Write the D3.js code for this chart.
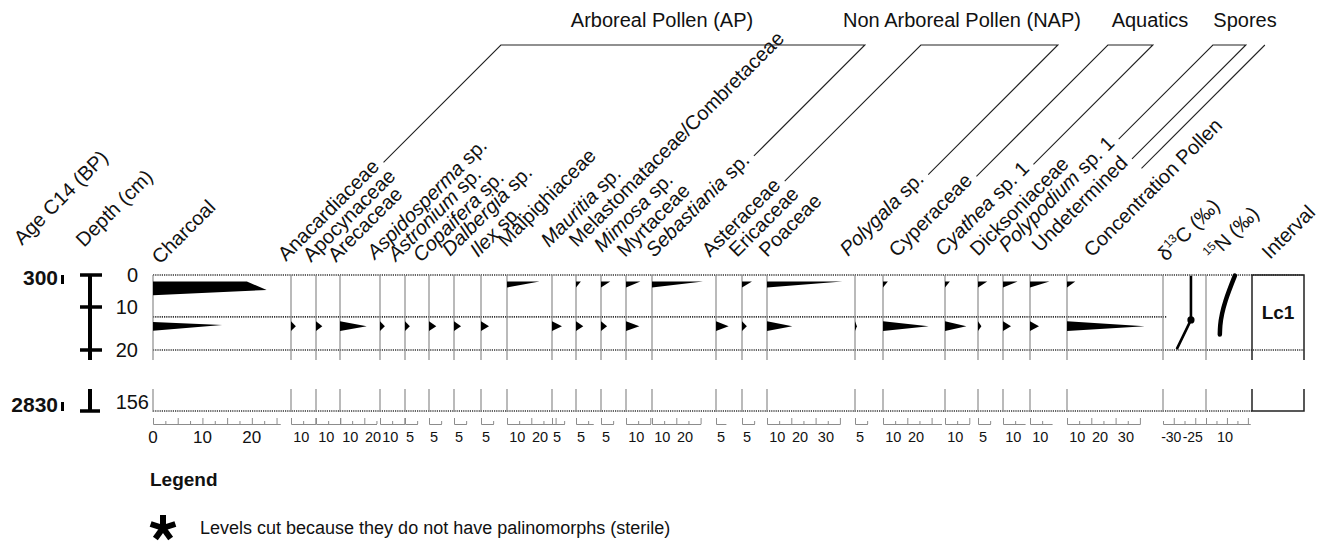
<!DOCTYPE html>
<html>
<head>
<meta charset="utf-8">
<script src="https://cdn.jsdelivr.net/npm/d3@7"></script>
<style>
body{margin:0;background:#fff;}
svg text{font-family:Arial,"Liberation Sans",Helvetica,sans-serif;fill:#111;}
</style>
</head>
<body>
<svg id="chart" width="1332" height="543"></svg>
<script>
// ---- values ----
var taxa = ["Anacardiaceae","Apocynaceae","Arecaceae","Aspidosperma sp.","Astronium sp.","Copaifera sp.",
  "Dalbergia sp.","Ilex sp.","Malpighiaceae","Mauritia sp.","Melastomataceae/Combretaceae","Mimosa sp.",
  "Myrtaceae","Sebastiania sp.","Asteraceae","Ericaceae","Poaceae","Polygala sp.","Cyperaceae",
  "Cyathea sp. 1","Dicksoniaceae","Polypodium sp. 1","Undetermined","Concentration Pollen"];
var sampleDepths = [2, 14.5];
var pctUpper = [0,0,0,0,0,0,0,0,13.4,0,2,3.8,5.9,21,0,4.1,31,0,2,2,3.8,6,8,3.4];
var pctLower = [2,2.6,11,2,2,3,2.9,3.3,0,4.1,3,2.5,5.5,0,5.2,2,10.4,0.8,18.8,8.8,1.4,3.3,3.7,32];
var axisMax = [10,10,15,10,5,5,5,5,23,5,7,5,10,20,4,5,30,5,24,10,5,9,9,30];
var tickLabels = [[10],[10],[10,20],[10],[5],[5],[5],[5],[10,20],[5],[5],[5],[10],[10,20],[5],[5],
  [10,20,30],[5],[10,20],[10],[5],[10],[10],[10,20,30]];

var charcoal = [{depth:2,value:19},{depth:4.7,value:23},{depth:14.2,value:14}];
var charcoalTicks = [0,10,20];
var d13C = [{depth:0.2,value:-26},{depth:13,value:-26},{depth:19.8,value:-29.3}];
var d13CTicks = [-30,-25];
var d15N = [{depth:0.2,value:11.9},{depth:14.3,value:8.4},{depth:16.4,value:8.3}];
var d15NTicks = [10];

var depthTicks = [0,10,20];
var lowerDepth = 156;
var ages = [{depth:0,age:"300"},{depth:156,age:"2830"}];
var boundaries = [0,12.3,20];
var zones = [{name:"Lc1",top:0,base:20}];

var groups = [
  {name:"Arboreal Pollen (AP)", first:"Anacardiaceae", last:"Sebastiania sp.", titleX:662},
  {name:"Non Arboreal Pollen (NAP)", first:"Asteraceae", last:"Polygala sp.", titleX:962},
  {name:"Aquatics", first:"Cyperaceae", last:"Cyathea sp. 1", titleX:1150},
  {name:"Spores", first:"Polypodium sp. 1", last:"Undetermined", titleX:1245}
];

// ---- layout ----
var colWidth = [138,25,24,40,25,24,25,27,26,45,24,25,25,26,64,26,25,88,28,62,33,25,27,37,96,43,46,52];
var colX = [], acc = 153;
colWidth.forEach(function(w){ colX.push(acc); acc += w; });
// [shift along x+y, baseline y] for the slanted header labels
var labelNudge = {"Charcoal":[15,265],"Apocynaceae":[1,263],"Arecaceae":[2,263],"Aspidosperma sp.":[-2,260],
  "Astronium sp.":[-4,262],"Copaifera sp.":[-2,263],"Dalbergia sp.":[-4,257],"Ilex sp.":[-2,258],
  "Malpighiaceae":[-10,248],"Mauritia sp.":[-12,248],"Melastomataceae/Combretaceae":[-8,248],
  "Mimosa sp.":[-3,253],"Myrtaceae":[0,258],"Sebastiania sp.":[3,258],"Asteraceae":[-5,258],
  "Ericaceae":[-4,258],"Poaceae":[1,258],"Polygala sp.":[-7,257],"Cyperaceae":[15,258],
  "Cyathea sp. 1":[-2,257],"Dicksoniaceae":[0,257],"Polypodium sp. 1":[0,253],"Undetermined":[6,253],
  "Concentration Pollen":[26,258],"δ13C":[8,262],"15N":[12,262],"Interval":[21,260]};

var svg = d3.select("#chart");
var yUp = d3.scaleLinear().domain([0,10,20]).range([275,307,350]);
var yLow = d3.scaleLinear().domain([150,156]).range([389,411]);
var upTop = 275, upBot = 360, lowTop = 389, lowBot = 412;
var axisY = 424;
var pxPerPct = 2.43;
var xRight = colX[27] + colWidth[27];

// dotted level lines
var dots = svg.append("g").attr("stroke","#333").attr("stroke-width",1.6).attr("stroke-dasharray","1.2 1");
boundaries.forEach(function(d,i){
  var x2 = (i===1) ? colX[25]+4 : xRight;
  dots.append("line").attr("x1",colX[0]).attr("x2",x2).attr("y1",yUp(d)).attr("y2",yUp(d));
});
dots.append("line").attr("x1",colX[0]).attr("x2",colX[27]).attr("y1",yLow(lowerDepth)).attr("y2",yLow(lowerDepth));

// column baselines
var base = svg.append("g").attr("stroke","#8c8c8c").attr("stroke-width",1.2);
colX.slice(0,27).forEach(function(x){
  base.append("line").attr("x1",x).attr("x2",x).attr("y1",upTop).attr("y2",upBot);
  base.append("line").attr("x1",x).attr("x2",x).attr("y1",lowTop).attr("y2",lowBot);
});

function drawAxis(scale, step, majorStep, maxV, minV){
  var all = d3.range(minV, maxV + 0.001, step);
  var major = all.filter(function(v){ return Math.abs(v/majorStep - Math.round(v/majorStep)) < 1e-6; });
  var minor = all.filter(function(v){ return major.indexOf(v) < 0; });
  var g = svg.append("g").attr("transform","translate(0,"+axisY+")");
  g.call(d3.axisBottom(scale).tickValues(major).tickSize(-6).tickSizeOuter(0).tickFormat(""));
  g.append("g").call(d3.axisBottom(scale).tickValues(minor).tickSize(-3).tickSizeOuter(0).tickFormat(""));
  g.selectAll("path,line").attr("stroke","#8c8c8c").attr("stroke-width",1);
  return g;
}
function area(xs, ys, pts){
  return d3.line().x(function(p){return xs(p[0]);}).y(function(p){return ys(p[1]);})(pts) + "Z";
}

// charcoal
var xc = d3.scaleLinear().domain([0,25.7]).range([colX[0], colX[0]+127]);
var cg = drawAxis(xc, 2.5, 5, 25, 0);
cg.selectAll(".lab").data(charcoalTicks).enter().append("text")
  .attr("x",function(d){return xc(d);}).attr("y",19).attr("text-anchor","middle")
  .attr("font-size",17).text(function(d){return d;});
svg.append("path").attr("fill","#000")
  .attr("d", area(xc, yUp, [[0,charcoal[0].depth],[charcoal[0].value,charcoal[0].depth],
    [charcoal[1].value,charcoal[1].depth],[0,charcoal[1].depth+1.6]]));
svg.append("path").attr("fill","#000")
  .attr("d", area(xc, yUp, [[0,charcoal[2].depth-0.7],[charcoal[2].value,charcoal[2].depth],[0,charcoal[2].depth+1.3]]));

// pollen taxa
function labelShiftX(d){ return d < 10 ? -7 : (d >= 20 && d < 30 ? -15.5 : -14); }
taxa.forEach(function(name,i){
  var x0 = colX[i+1];
  var xs = d3.scaleLinear().domain([0,axisMax[i]]).range([x0, x0+axisMax[i]*pxPerPct]);
  var g = drawAxis(xs, 5, 10, axisMax[i], 0);
  g.selectAll(".lab").data(tickLabels[i]).enter().append("text")
    .attr("x",function(d){return x0 + d*pxPerPct + labelShiftX(d);}).attr("y",18).attr("text-anchor","middle")
    .attr("font-size",14.5).text(function(d){return d;});
  var d1 = sampleDepths[0], d2 = sampleDepths[1];
  if(pctUpper[i] > 0){
    svg.append("path").attr("fill","#000").attr("d", area(xs, yUp, [[0,d1],[pctUpper[i],d1],[0,d1+1.9]]));
  }
  if(pctLower[i] > 0){
    svg.append("path").attr("fill","#000").attr("d", area(xs, yUp, [[0,d2-1.2],[pctLower[i],d2],[0,d2+1.1]]));
  }
});

// isotopes
var x13 = d3.scaleLinear().domain([-32.5,-22.5]).range([colX[25], colX[25]+43]);
var g13 = drawAxis(x13, 2.5, 5, -22.5, -32.5);
g13.selectAll(".lab").data(d13CTicks).enter().append("text")
  .attr("x",function(d){return x13(d)-2.5;}).attr("y",18).attr("text-anchor","middle")
  .attr("font-size",14).text(function(d){return d;});
svg.append("path").attr("fill","none").attr("stroke","#000").attr("stroke-width",2.6)
  .attr("d", d3.line().x(function(d){return x13(d.value);}).y(function(d){return yUp(d.depth);})(d13C));
svg.append("circle").attr("cx",x13(d13C[1].value)).attr("cy",yUp(d13C[1].depth)).attr("r",3.6).attr("fill","#000");

var x15 = d3.scaleLinear().domain([5,15.5]).range([colX[26], colX[26]+44]);
var g15 = drawAxis(x15, 2.5, 5, 15, 5);
g15.selectAll(".lab").data(d15NTicks).enter().append("text")
  .attr("x",function(d){return x15(d)-2;}).attr("y",18).attr("text-anchor","middle")
  .attr("font-size",14.5).text(function(d){return d;});
svg.append("path").attr("fill","none").attr("stroke","#000").attr("stroke-width",4.5).attr("stroke-linecap","round")
  .attr("d", d3.line().curve(d3.curveMonotoneY).x(function(d){return x15(d.value);}).y(function(d){return yUp(d.depth);})(d15N));

// interval column
var xi0 = colX[27], xi1 = xRight;
svg.append("path").attr("fill","none").attr("stroke","#222").attr("stroke-width",1.5)
  .attr("d","M"+xi0+","+upBot+"V"+upTop+"H"+xi1+"V"+upBot);
svg.append("path").attr("fill","none").attr("stroke","#222").attr("stroke-width",1.5)
  .attr("d","M"+xi0+","+lowTop+"V"+yLow(lowerDepth)+"H"+xi1+"V"+lowTop);
zones.forEach(function(z){
  svg.append("text").attr("x",(xi0+xi1)/2).attr("y",(yUp(z.top)+yUp(z.base))/2).attr("dy","0.35em")
    .attr("text-anchor","middle").attr("font-size",19).attr("font-weight","bold").text(z.name);
});

// depth axis and ages
var dx = 90;
svg.append("line").attr("x1",dx).attr("x2",dx).attr("y1",upTop).attr("y2",upBot).attr("stroke","#000").attr("stroke-width",4);
svg.append("line").attr("x1",dx).attr("x2",dx).attr("y1",lowTop).attr("y2",yLow(lowerDepth)).attr("stroke","#000").attr("stroke-width",4);
depthTicks.forEach(function(d){
  svg.append("line").attr("x1",dx-10).attr("x2",dx+12).attr("y1",yUp(d)).attr("y2",yUp(d)).attr("stroke","#000").attr("stroke-width",3.5);
  svg.append("text").attr("x",138).attr("y",yUp(d)).attr("dy","0.35em").attr("text-anchor","end").attr("font-size",20).text(d);
});
svg.append("line").attr("x1",dx-10).attr("x2",dx+10).attr("y1",yLow(lowerDepth)).attr("y2",yLow(lowerDepth)).attr("stroke","#000").attr("stroke-width",3.5);
svg.append("text").attr("x",149).attr("y",yLow(lowerDepth)).attr("dy","-0.1em").attr("text-anchor","end").attr("font-size",20).text(lowerDepth);
ages.forEach(function(a){
  var yy = a.depth <= 20 ? yUp(a.depth) : yLow(a.depth);
  var lo = a.depth <= 20 ? upTop+10 : lowTop+10, hi = a.depth <= 20 ? upBot : lowBot;
  var b = Math.max(lo, Math.min(hi, yy+5));
  svg.append("text").attr("x",58).attr("y",b).attr("text-anchor","end").attr("font-size",21).attr("font-weight","bold").text(a.age);
  svg.append("rect").attr("x",61).attr("y",b-10).attr("width",3).attr("height",9).attr("fill","#000");
});

// slanted header labels
var labelNodes = {}, anchors = {};
function header(name, ax, ay, parts){
  anchors[name] = {x:ax, y:ay};
  var t = svg.append("text").attr("transform","translate("+ax+","+ay+") rotate(-45)").attr("font-size",20);
  parts.forEach(function(p){
    var s = t.append("tspan").text(p.t);
    if(p.i) s.attr("font-style","italic");
    if(p.sup) s.attr("font-size",12).attr("dy",-8);
    if(p.down) s.attr("dy",8);
  });
  labelNodes[name] = t.node();
}
function colHeader(name, x0, parts){
  var n = labelNudge[name] || [0,262];
  var c = x0 + 257 + n[0];
  header(name, c - n[1], n[1], parts);
}
function parts(name){
  var k = name.indexOf(" sp.");
  if(k > 0) return [{t:name.slice(0,k),i:true},{t:name.slice(k)}];
  return [{t:name}];
}
header("Age C14 (BP)", 22, 246, [{t:"Age C14 (BP)"}]);
header("Depth (cm)", 84, 248, [{t:"Depth (cm)"}]);
colHeader("Charcoal", colX[0], [{t:"Charcoal"}]);
taxa.forEach(function(name,i){ colHeader(name, colX[i+1], parts(name)); });
colHeader("δ13C", colX[25], [{t:"δ"},{t:"13",sup:true},{t:"C (‰)",down:true}]);
colHeader("15N", colX[26], [{t:"15",sup:true},{t:"N (‰)",down:true}]);
colHeader("Interval", colX[27], [{t:"Interval"}]);

// group brackets
var topY = 45, S = Math.SQRT1_2;
function lineStart(name, pad, perp){
  var a = anchors[name], L = labelNodes[name].getComputedTextLength() + pad;
  return [a.x + L*S - perp*S, a.y - L*S - perp*S];
}
var br = svg.append("g").attr("stroke","#222").attr("stroke-width",1.1).attr("fill","none");
groups.forEach(function(gr){
  var p = lineStart(gr.first, 6, 1.5), q = lineStart(gr.last, 6, 1.5);
  var xa = p[0] + (p[1]-topY), xb = q[0] + (q[1]-topY);
  br.append("path").attr("d","M"+p[0]+","+p[1]+"L"+xa+","+topY+"H"+xb+"L"+q[0]+","+q[1]);
  svg.append("text").attr("x",gr.titleX).attr("y",27).attr("text-anchor","middle").attr("font-size",20).text(gr.name);
});
var u = lineStart("Undetermined", 6, 1.5);
u = [u[0]+9.5, u[1]+9.5];
br.append("path").attr("d","M"+u[0]+","+u[1]+"L"+(u[0]+(u[1]-topY))+","+topY);

// legend
svg.append("text").attr("x",150).attr("y",486).attr("font-size",19).attr("font-weight","bold").text("Legend");
var star = svg.append("g").attr("stroke","#000").attr("stroke-width",6).attr("transform","translate(163,528)");
[0,72,144,216,288].forEach(function(a){
  var r = a*Math.PI/180;
  star.append("line").attr("x1",0).attr("y1",0).attr("x2",13*Math.sin(r)).attr("y2",-13*Math.cos(r));
});
svg.append("text").attr("x",200).attr("y",534).attr("font-size",18).text("Levels cut because they do not have palinomorphs (sterile)");
</script>
</body>
</html>
